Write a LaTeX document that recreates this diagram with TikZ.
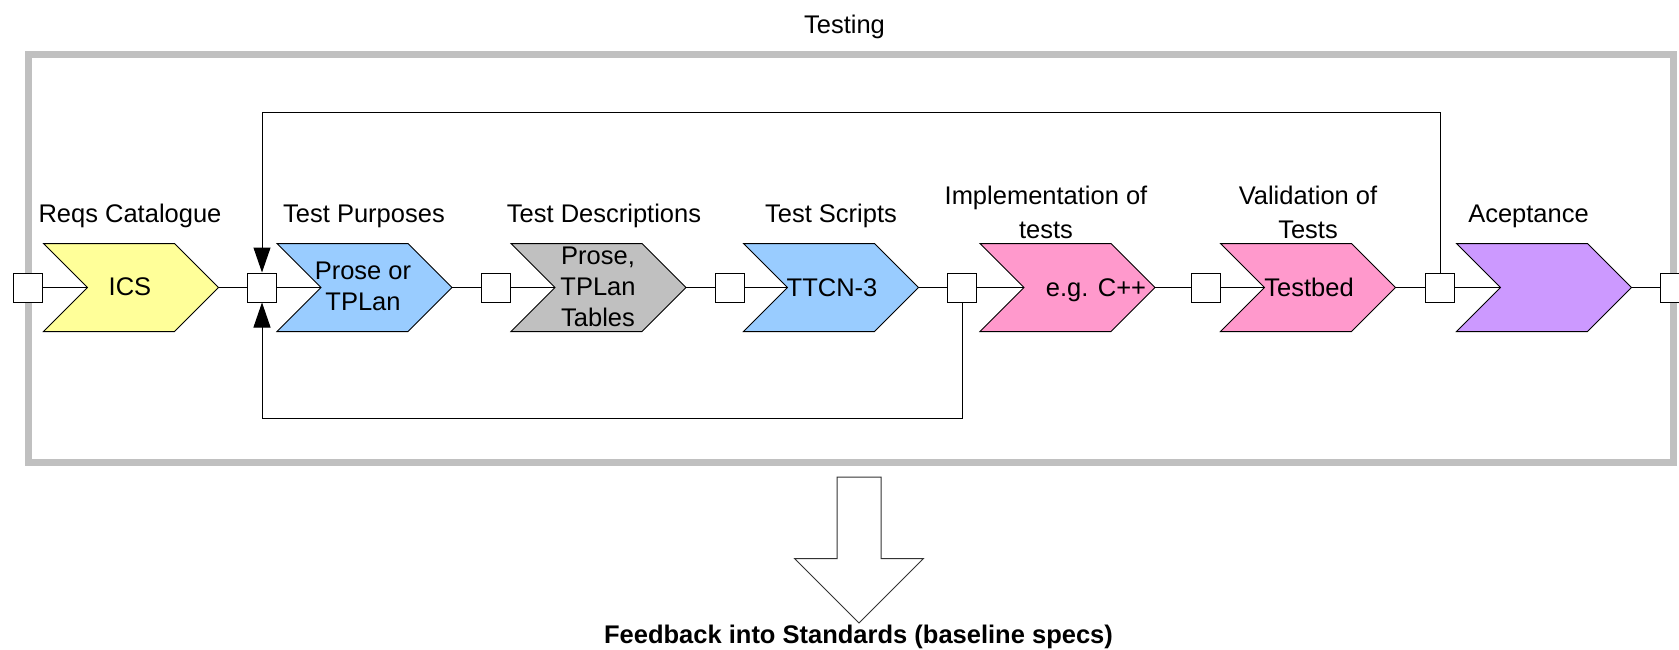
\documentclass[tikz,border=0pt]{standalone}
\usepackage{fontspec}
\setmainfont{Liberation Sans}
\usetikzlibrary{arrows.meta}
\definecolor{framegray}{RGB}{192,192,192}
\definecolor{yellowc}{RGB}{255,255,153}
\definecolor{bluec}{RGB}{153,204,255}
\definecolor{grayc}{RGB}{192,192,192}
\definecolor{pinkc}{RGB}{255,153,204}
\definecolor{purplec}{RGB}{204,153,255}
\begin{document}
\begin{tikzpicture}[x=1pt,y=-1pt,
  chevline/.style={draw=black, line width=1pt, line join=miter},
  pics/chev/.style={code={
    \path[chevline, fill=#1] (0,-44) -- (131,-44) -- (175,0) -- (131,44) -- (0,44) -- (44,0) -- cycle;
    \coordinate (-notch) at (44,0);
    \coordinate (-tip) at (175,0);
  }},
  sq/.style={draw=black, fill=white, line width=1pt, minimum size=29pt, inner sep=0pt},
  conn/.style={draw=black, line width=1pt},
  loopconn/.style={conn, -{Triangle[length=25pt,width=17pt]}},
  lbl/.style={font=\fontsize{25.5}{34}\selectfont, align=center, anchor=base, inner sep=0pt},
  ctext/.style={font=\fontsize{25.5}{31}\selectfont, align=center, anchor=base, inner sep=0pt},
]
\useasboundingbox (0,0) rectangle (1679,650);

% frame
\draw[framegray, line width=7pt] (28,54.5) rectangle (1673.5,462.5);
\node[lbl] (testing) at (844.5,33.3) {Testing};

% chevrons
\pic (ics)  at (43.5,287.5)  {chev=yellowc};
\pic (tp)   at (277,287.5)   {chev=bluec};
\pic (td)   at (511,287.5)   {chev=grayc};
\pic (ts)   at (743.5,287.5) {chev=bluec};
\pic (impl) at (980,287.5)   {chev=pinkc};
\pic (val)  at (1220.5,287.5){chev=pinkc};
\pic (acc)  at (1456.5,287.5){chev=purplec};

% chevron texts (base = last line baseline)
\node[ctext] (icst)  at (130,295.5)  {ICS};
\node[ctext] (tpt)   at (363,310.7)  {Prose or\\TPLan};
\node[ctext] (tdt)   at (598,326.7)  {Prose,\\TPLan\\Tables};
\node[ctext] (tst)   at (832,296.5)  {TTCN-3};
\node[ctext] (implt) at (1096,296.5) {e.g. C++};
\node[ctext] (valt)  at (1309,296.5) {Testbed};

% labels
\node[lbl] (l1) at (130,222)    {Reqs Catalogue};
\node[lbl] (l2) at (364,222)    {Test Purposes};
\node[lbl] (l3) at (604,222)    {Test Descriptions};
\node[lbl] (l4) at (831,222)    {Test Scripts};
\node[lbl] (l5) at (1046,238)   {Implementation of\\tests};
\node[lbl] (l6) at (1308,238)   {Validation of\\Tests};
\node[lbl] (l7) at (1528.5,222) {Aceptance};

% squares
\node[sq] (s1) at (28,287.5) {};
\node[sq] (s2) at (262,287.5) {};
\node[sq] (s3) at (496,287.5) {};
\node[sq] (s4) at (730,287.5) {};
\node[sq] (s5) at (962,287.5) {};
\node[sq] (s6) at (1206,287.5) {};
\node[sq] (s7) at (1440,287.5) {};
\node[sq] (s8) at (1675,287.5) {};

% connectors
\draw[conn] (s1.east) -- (ics-notch);
\draw[conn] (ics-tip) -- (s2.west);
\draw[conn] (s2.east) -- (tp-notch);
\draw[conn] (tp-tip) -- (s3.west);
\draw[conn] (s3.east) -- (td-notch);
\draw[conn] (td-tip) -- (s4.west);
\draw[conn] (s4.east) -- (ts-notch);
\draw[conn] (ts-tip) -- (s5.west);
\draw[conn] (s5.east) -- (impl-notch);
\draw[conn] (impl-tip) -- (s6.west);
\draw[conn] (s6.east) -- (val-notch);
\draw[conn] (val-tip) -- (s7.west);
\draw[conn] (s7.east) -- (acc-notch);
\draw[conn] (acc-tip) -- (s8.west);

% loops
\coordinate (topL) at (262,112.5);
\coordinate (botL) at (262,418);
\draw[loopconn] (s7.north) |- (topL) -- (s2.north);
\draw[loopconn] (s5.south) |- (botL) -- (s2.south);

% block arrow
\draw[draw=black!80, fill=white, line width=1pt, line join=miter]
  (837,477) -- (881,477) -- (881,558.5) -- (923.5,558.5) -- (859,623) -- (794.5,558.5) -- (837,558.5) -- cycle;
\node[lbl, font=\fontsize{25.5}{34}\selectfont\bfseries] (fb) at (858.5,643.5) {Feedback into Standards (baseline specs)};
\end{tikzpicture}
\end{document}
